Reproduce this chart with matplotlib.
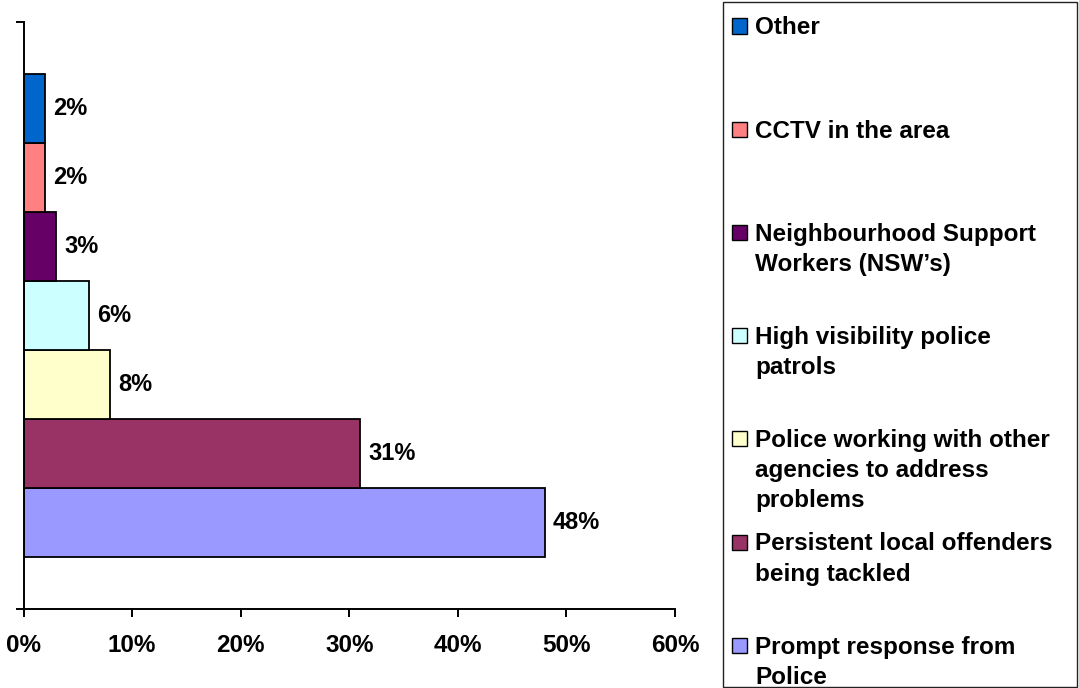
import matplotlib
matplotlib.use('Agg')
import matplotlib.pyplot as plt
from matplotlib.patches import Rectangle

plt.rcParams['font.family'] = ['Liberation Sans', 'DejaVu Sans']
plt.rcParams['font.weight'] = 'bold'

# data, bottom bar first
labels = ['Prompt response from\nPolice',
          'Persistent local offenders\nbeing tackled',
          'Police working with other\nagencies to address\nproblems',
          'High visibility police\npatrols',
          'Neighbourhood Support\nWorkers (NSW\u2019s)',
          'CCTV in the area',
          'Other']
values = [48, 31, 8, 6, 3, 2, 2]
colors = ['#9999FF', '#993366', '#FFFFCC', '#CCFFFF', '#660066', '#FF8080', '#0066CC']
xticks = [0, 10, 20, 30, 40, 50, 60]

W, H = 1079, 688
fig = plt.figure(figsize=(W / 100, H / 100), dpi=100)
ax = fig.add_axes([23.5 / W, 1 - 609 / H, (675 - 23.5) / W, (609 - 22) / H])

bar_h = 69 / 587
n = len(values)
ypos = [0.5 + (i - (n - 1) / 2) * bar_h for i in range(n)]
ax.barh(ypos, values, height=bar_h, color=colors, edgecolor='black', linewidth=1.3)

for y, v in zip(ypos, values):
    ax.annotate(f'{v}%', (v, y), xytext=(6, 0), textcoords='offset points',
                va='center', ha='left', fontsize=17, fontweight='bold')

ax.set_xlim(0, 60)
ax.set_ylim(0, 1)
ax.set_xticks(xticks)
ax.set_xticklabels([f'{t}%' for t in xticks], fontsize=17.5, fontweight='bold')
ax.set_yticks([0, 1])
ax.set_yticklabels([])
ax.tick_params(axis='x', direction='out', length=6, width=1.4, pad=12)
ax.tick_params(axis='y', direction='out', length=6, width=1.4)
for s in ['top', 'right']:
    ax.spines[s].set_visible(False)
for s in ['left', 'bottom']:
    ax.spines[s].set_linewidth(1.4)

# legend box, drawn in pixel positions of the figure
def fx(px):
    return px / W

def fy(py):
    return 1 - py / H

fig.patches.append(Rectangle((fx(722.5), fy(687)), fx(1077) - fx(722.5), fy(2) - fy(687),
                             transform=fig.transFigure, fill=False, edgecolor='#222222',
                             linewidth=1.0))

first_line = 26
step = 103.2
line_gap = 30
for k, i in enumerate(range(n - 1, -1, -1)):
    yc = first_line + step * k
    fig.patches.append(Rectangle((fx(732), fy(yc + 7.5)), fx(747) - fx(732), fy(yc - 7.5) - fy(yc + 7.5),
                                 transform=fig.transFigure, facecolor=colors[i],
                                 edgecolor='black', linewidth=1.0))
    for j, line in enumerate(labels[i].split('\n')):
        fig.text(fx(755), fy(yc + line_gap * j + 8.5), line, fontsize=17.5,
                 fontweight='bold', ha='left', va='baseline')

fig.savefig('out.png', dpi=100)
